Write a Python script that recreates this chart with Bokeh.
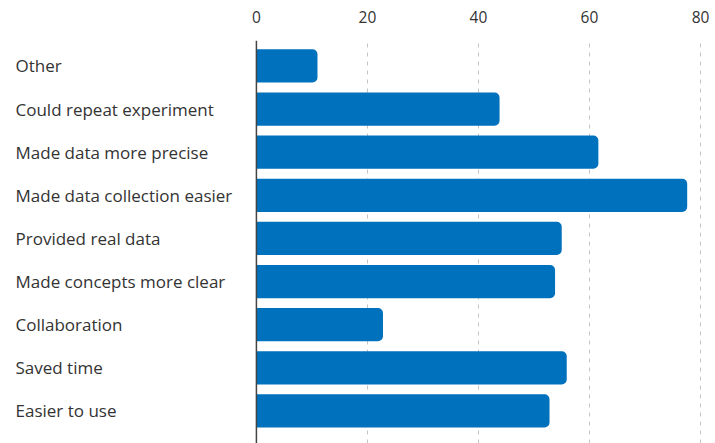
from bokeh.plotting import figure
from bokeh.models import ColumnDataSource, Range1d, FixedTicker, Span
from bokeh.core.properties import value
from bokeh.embed import file_html
from bokeh.resources import INLINE

categories = ["Other", "Could repeat experiment", "Made data more precise",
              "Made data collection easier", "Provided real data",
              "Made concepts more clear", "Collaboration", "Saved time",
              "Easier to use"]
values = [11, 43.8, 61.6, 77.6, 55, 53.8, 22.8, 55.9, 52.8]
x_ticks = [0, 20, 40, 60, 80]

n = len(categories)
ypos = [n - 1 - i for i in range(n)]
label_x = -43.4

src = ColumnDataSource(dict(cat=categories, val=values, y=ypos,
                            lx=[label_x] * n))

FONT = "Open Sans"
p = figure(width=715, height=443, output_backend="svg", toolbar_location=None,
           x_range=Range1d(-46.1, 82.7), y_range=Range1d(-0.755, n - 1 + 0.59),
           x_axis_location="above", min_border_left=0, min_border_right=0,
           min_border_bottom=0, min_border_top=40)
p.yaxis.visible = False
p.outline_line_color = None
p.background_fill_color = "white"
p.border_fill_color = "white"

ax = p.xaxis[0]
ax.ticker = FixedTicker(ticks=x_ticks)
ax.axis_line_color = None
ax.major_tick_line_color = None
ax.minor_tick_line_color = None
ax.major_label_standoff = 12
ax.major_label_text_font = FONT
ax.major_label_text_font_size = "15.5px"
ax.major_label_text_color = "#333333"

p.ygrid.visible = False
p.xgrid.ticker = FixedTicker(ticks=x_ticks[1:])
p.xgrid.grid_line_color = "#c4c4c4"
p.xgrid.grid_line_dash = "4 5"
p.xgrid.grid_line_width = 1

p.hbar(y="y", left=0, right="val", height=0.77, source=src,
       fill_color="#0071BC", line_color=None, border_radius=(0, 5, 5, 0))

p.add_layout(Span(location=0, dimension="height", line_color="#444444",
                  line_width=1.5))

p.text(x="lx", y="y", text="cat", source=src, text_font=value(FONT),
       text_font_size="17px", text_color="#333333", text_baseline="middle",
       text_align="left")

open("out.html", "w").write(file_html(p, INLINE))
